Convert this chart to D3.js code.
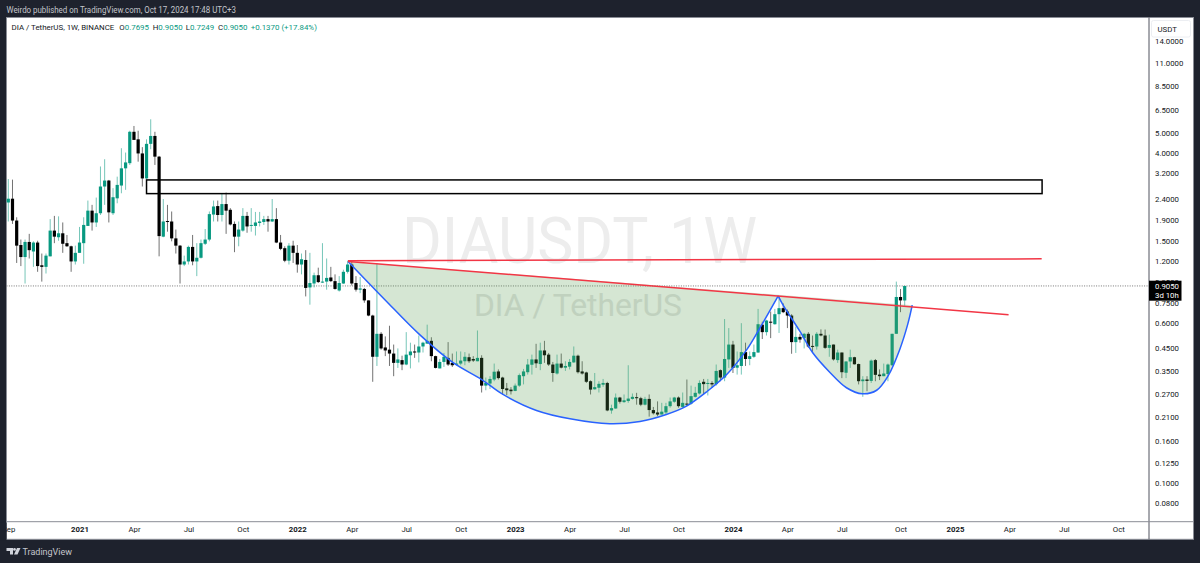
<!DOCTYPE html>
<html>
<head>
<meta charset="utf-8">
<style>
    html, body { margin: 0; padding: 0; background: #1e222d; overflow: hidden; }
    text { font-family: Roboto, sans-serif; }
</style>
</head>
<body>
<svg id="chart" width="1200" height="563"></svg>
<script src="https://cdn.jsdelivr.net/npm/d3@7"></script>
<script>
    // weekly DIA/USDT candles, first bar is the week of 7 Sep 2020
    let open = [
        2.30,2.40,1.88,1.43,1.25,1.48,1.33,1.47,1.14,1.12,
        1.26,1.68,1.56,1.63,1.46,1.41,1.19,1.31,1.46,1.77,
        2.10,1.84,2.04,2.75,2.94,2.04,2.41,2.78,3.37,3.57,
        5.07,4.66,3.98,3.01,4.43,4.84,3.84,1.57,1.87,1.86,
        1.54,1.42,1.15,1.19,1.40,1.19,1.24,1.45,1.52,2.01,
        2.21,2.00,2.26,2.12,1.81,1.57,1.68,1.98,1.77,1.77,
        1.83,1.85,1.91,1.86,1.91,1.47,1.38,1.20,1.42,1.31,
        1.15,1.21,.89,.93,1.02,.94,.95,.995,.955,.86,
        .93,1.06,1.15,.935,.868,.875,.77,.65,.41,.53,
        .455,.444,.425,.383,.395,.376,.417,.435,.43,.46,
        .475,.49,.413,.36,.387,.405,.383,.375,.38,.39,
        .408,.40,.39,.405,.297,.304,.318,.348,.325,.288,
        .284,.28,.297,.33,.345,.375,.398,.378,.44,.42,
        .376,.34,.38,.363,.367,.385,.415,.348,.344,.312,
        .285,.29,.30,.306,.225,.23,.26,.247,.25,.256,
        .261,.258,.24,.256,.226,.22,.215,.22,.236,.248,
        .26,.234,.243,.243,.262,.272,.31,.304,.306,.302,
        .353,.325,.398,.47,.363,.37,.432,.40,.41,.43,
        .587,.54,.607,.59,.66,.706,.68,.65,.483,.512,
        .505,.53,.463,.46,.53,.52,.453,.47,.395,.43,
        .343,.389,.408,.378,.312,.318,.313,.395,.336,.33,
        .338,.373,.53,.80,.7695
    ]
    let high = [
        2.99,2.97,1.95,1.52,1.52,1.62,1.49,1.50,1.30,1.30,
        1.91,1.98,1.97,1.84,1.60,1.42,1.42,1.75,1.95,2.35,
        2.24,2.43,3.44,3.73,2.96,2.70,3.07,4.22,4.02,5.13,
        5.41,5.13,4.27,4.66,5.83,5.07,3.87,2.39,2.24,2.08,
        1.70,1.43,1.27,1.42,1.60,1.46,1.52,1.71,2.08,2.35,
        2.35,2.55,2.57,2.16,1.86,1.86,2.16,2.07,2.16,2.07,
        2.07,1.98,1.98,2.39,2.16,1.60,1.41,1.46,1.50,1.43,
        1.30,1.35,1.31,1.05,1.11,1.46,1.23,1.12,1.03,1.01,
        1.085,1.20,1.20,1.01,1.00,.885,.77,.656,1.17,.54,
        .515,.58,.47,.45,.415,.54,.48,.47,.52,.485,
        .587,.51,.415,.40,.428,.483,.425,.435,.435,.432,
        .425,.413,.55,.417,.325,.33,.38,.356,.328,.306,
        .292,.304,.34,.358,.40,.42,.474,.48,.49,.428,
        .387,.42,.425,.39,.40,.46,.42,.39,.347,.315,
        .342,.312,.32,.31,.24,.272,.262,.269,.373,.272,
        .274,.262,.262,.269,.234,.249,.245,.245,.26,.262,
        .263,.275,.318,.297,.293,.315,.32,.32,.312,.376,
        .356,.625,.565,.49,.435,.597,.48,.435,.47,.70,
        .607,.62,.68,.70,.806,.745,.695,.66,.575,.53,
        .535,.54,.52,.54,.557,.556,.525,.47,.444,.43,
        .39,.444,.41,.38,.33,.33,.398,.40,.356,.38,
        .38,.53,.95,.875,.905
    ]
    let low = [
        1.86,1.81,1.17,1.13,.93,1.23,1.12,1.06,.95,1.04,
        1.26,1.46,1.50,1.31,1.40,1.06,1.15,1.31,1.16,1.77,
        1.68,1.75,2.00,2.24,1.84,2.00,2.28,2.55,2.65,3.50,
        4.63,3.63,2.75,2.98,4.17,3.50,1.26,1.56,1.66,1.49,
        1.30,.93,1.13,1.15,1.14,1.01,1.23,1.43,1.49,1.86,
        1.86,1.86,1.62,1.78,1.32,1.41,1.66,1.64,1.66,1.59,
        1.76,1.79,1.66,1.85,1.46,1.35,1.18,1.15,1.17,1.05,
        1.03,.805,.734,.89,.935,.935,.868,.945,.868,.85,
        .925,1.04,.91,.85,.835,.75,.645,.31,.37,.444,
        .413,.37,.33,.362,.353,.373,.36,.405,.385,.43,
        .473,.39,.36,.36,.366,.37,.366,.373,.373,.373,
        .383,.387,.39,.275,.282,.286,.312,.318,.269,.267,
        .269,.279,.293,.301,.336,.336,.362,.353,.383,.37,
        .31,.336,.36,.35,.356,.383,.34,.336,.306,.269,
        .284,.275,.293,.223,.217,.229,.243,.245,.245,.254,
        .24,.236,.238,.21,.215,.211,.215,.215,.232,.245,
        .232,.232,.236,.24,.26,.269,.269,.266,.29,.297,
        .312,.312,.362,.342,.336,.336,.37,.373,.405,.428,
        .50,.52,.505,.587,.535,.668,.565,.424,.428,.48,
        .45,.453,.428,.444,.515,.448,.41,.393,.383,.323,
        .323,.362,.376,.301,.262,.279,.306,.312,.316,.33,
        .312,.37,.53,.675,.7249
    ]
    let close = [
        2.40,1.88,1.42,1.25,1.48,1.35,1.47,1.13,1.12,1.27,
        1.68,1.57,1.63,1.45,1.41,1.19,1.31,1.47,1.79,2.10,
        1.84,2.04,2.75,2.94,2.06,2.44,2.80,3.37,3.60,5.07,
        4.63,3.98,3.01,4.43,4.84,3.84,1.58,1.86,1.86,1.54,
        1.42,1.15,1.19,1.40,1.19,1.24,1.46,1.52,2.02,2.20,
        2.00,2.26,2.10,1.80,1.57,1.70,1.98,1.76,1.79,1.84,
        1.86,1.91,1.86,1.91,1.47,1.37,1.20,1.42,1.31,1.15,
        1.22,.885,.935,1.02,.945,.95,.99,.955,.875,.935,
        1.06,1.15,.93,.868,.88,.77,.65,.41,.53,.45,
        .44,.425,.383,.398,.376,.42,.435,.43,.46,.48,
        .49,.413,.362,.387,.41,.376,.373,.38,.393,.41,
        .39,.393,.405,.297,.306,.32,.347,.323,.286,.282,
        .279,.297,.334,.348,.376,.398,.381,.44,.417,.376,
        .342,.38,.363,.37,.387,.415,.345,.34,.31,.284,
        .292,.303,.306,.225,.231,.26,.248,.252,.257,.262,
        .258,.24,.256,.226,.218,.215,.222,.236,.249,.26,
        .236,.245,.24,.264,.274,.306,.302,.306,.301,.35,
        .325,.40,.47,.362,.373,.432,.40,.413,.432,.59,
        .54,.615,.60,.66,.706,.675,.65,.483,.512,.497,
        .53,.46,.46,.53,.52,.453,.468,.398,.43,.345,
        .389,.408,.377,.312,.318,.313,.393,.335,.33,.34,
        .376,.53,.80,.77,.905
    ]

    // axis ticks, time ticks are given as week number counted from the first bar
    let priceTicks = [14,11,8.5,6.5,5,4,3.2,2.4,1.9,1.5,1.2,.95,.75,.6,.45,.35,.27,.21,.16,.125,.1,.08]
    let timeLabels = ["Sep","2021","Apr","Jul","Oct","2022","Apr","Jul","Oct","2023","Apr","Jul","Oct","2024","Apr","Jul","Oct","2025","Apr","Jul","Oct"]
    let timeWeeks = [0,17,30,43,56,69,82,95,108,121,134,147,160,173,186,199,213,226,239,252,265]

    // drawings on the chart, as [week, price]
    let cupPoints = [[81.1,1.19],[89.9,.776],[98.2,.525],[106.1,.385],[113,.318],[118.1,.269],[126.1,.225],[134.1,.205],[143.6,.194],
        [150.8,.199],[157.1,.215],[161.9,.236],[166.7,.277],[171.5,.336],[176.3,.444],[179.4,.564],[183.8,.81]]
    let handlePoints = [[183.8,.81],[184.9,.734],[189,.544],[192,.43],[196.1,.345],[200.1,.29],[203.9,.271],[207.3,.282],[210,.33],[212.8,.444],[214.7,.587],[215.8,.73]]
    let trendLine = [[81.1,1.19],[238.8,.656]]
    let flatLine = [[81.1,1.20],[246.7,1.225]]
    let zoneWeeks = [33,246.8]
    let zonePrices = [2.96,2.54]
    let lastPrice = 0.905

    let svg = d3.select("#chart")

    // plot area of the panel
    let left = 6.5, right = 1149, top_ = 17.5, timeTop = 521.7, bottom = 539.3, edge = 1193.5

    let x = d3.scaleLinear().domain([0, open.length - 1]).range([8.3, 904.7])
    // 11 sits at y=62.5 and 0.1 at y=483
    let y = d3.scaleLog().domain([11, 0.1]).range([62.5, 483])

    let green = "#089981"
    let color = i => close[i] >= open[i] ? green : "#000000"

    // white panel
    svg.append("rect").attr("x", left).attr("y", top_).attr("width", edge - left).attr("height", bottom - top_)
        .attr("fill", "#fff").attr("stroke", "#8a8d96").attr("stroke-width", 1)

    // header
    svg.append("text").attr("x", 6.5).attr("y", 13).attr("font-size", 8.6).attr("fill", "#c4c6cc")
        .attr("textLength", 229.5).attr("lengthAdjust", "spacingAndGlyphs")
        .text("Weirdo published on TradingView.com, Oct 17, 2024 17:48 UTC+3")

    // watermark goes under everything
    svg.append("text").attr("x", 402).attr("y", 263).attr("font-size", 64).attr("fill", "#ededed")
        .attr("textLength", 355).attr("lengthAdjust", "spacingAndGlyphs").text("DIAUSDT, 1W")
    svg.append("text").attr("x", 474).attr("y", 316).attr("font-size", 31).attr("fill", "#e3e3e3")
        .attr("textLength", 208).attr("lengthAdjust", "spacingAndGlyphs").text("DIA / TetherUS")

    // last price dotted line
    svg.append("line").attr("x1", left).attr("x2", right).attr("y1", y(lastPrice)).attr("y2", y(lastPrice))
        .attr("stroke", "#777").attr("stroke-width", 1).attr("stroke-dasharray", "1 1.4")

    // candles
    let bars = svg.append("g").selectAll("g").data(d3.range(open.length)).enter().append("g")
    bars.append("line")
        .attr("x1", i => x(i)).attr("x2", i => x(i))
        .attr("y1", i => y(high[i])).attr("y2", i => y(low[i]))
        .attr("stroke", color).attr("stroke-width", 1).attr("opacity", 0.55)
    bars.append("rect")
        .attr("x", i => x(i) - 1.6).attr("width", 3.2)
        .attr("y", i => y(Math.max(open[i], close[i])))
        .attr("height", i => Math.max(1, Math.abs(y(open[i]) - y(close[i]))))
        .attr("fill", color)

    // cup and handle
    let line = d3.line().x(d => x(d[0])).y(d => y(d[1])).curve(d3.curveCatmullRom)
    let cupPath = line(cupPoints), handlePath = line(handlePoints)
    svg.append("path").attr("d", cupPath + handlePath.replace("M", "L") + "Z")
        .attr("fill", "rgba(87,155,79,0.25)").attr("stroke", "none")
    svg.append("path").attr("d", cupPath).attr("fill", "none").attr("stroke", "#2962ff").attr("stroke-width", 1.5)
    svg.append("path").attr("d", handlePath).attr("fill", "none").attr("stroke", "#2962ff").attr("stroke-width", 1.5)

    // red lines
    let straight = d3.line().x(d => x(d[0])).y(d => y(d[1]))
    svg.append("path").attr("d", straight(trendLine)).attr("fill", "none").attr("stroke", "#f23645").attr("stroke-width", 1.5)
    svg.append("path").attr("d", straight(flatLine)).attr("fill", "none").attr("stroke", "#f23645").attr("stroke-width", 1.5)

    // black box
    svg.append("rect")
        .attr("x", x(zoneWeeks[0])).attr("width", x(zoneWeeks[1]) - x(zoneWeeks[0]))
        .attr("y", y(zonePrices[0])).attr("height", y(zonePrices[1]) - y(zonePrices[0]))
        .attr("fill", "none").attr("stroke", "#000").attr("stroke-width", 1.5)

    // legend line
    let legend = svg.append("text").attr("y", 30).attr("font-size", 7.9).attr("fill", "#131722")
    legend.append("tspan").attr("x", 11.5).text("DIA / TetherUS, 1W, BINANCE")
    let ohlcLabels = ["O","H","L","C"]
    let ohlcValues = ["0.7695","0.9050","0.7249","0.9050"]
    let ohlcX = [119.3,152.7,185.7,218]
    ohlcLabels.forEach((l, i) => {
        legend.append("tspan").attr("x", ohlcX[i]).text(l)
        legend.append("tspan").attr("fill", green).text(ohlcValues[i])
    })
    legend.append("tspan").attr("x", 250.7).attr("fill", green).text("+0.1370 (+17.84%)")

    // axes
    let yAxis = d3.axisRight(y).tickValues(priceTicks).tickFormat(d3.format(".4f")).tickSize(0).tickPadding(6)
    let yG = svg.append("g").attr("transform", "translate(" + right + ",0)").call(yAxis)
    yG.select(".domain").remove()
    yG.selectAll("text").attr("font-size", 7.8).attr("font-family", "Roboto").attr("fill", "#131722")

    let xAxis = d3.axisBottom(x).tickValues(timeWeeks).tickFormat((d, i) => timeLabels[i]).tickSize(0).tickPadding(5)
    let xG = svg.append("g").attr("transform", "translate(0," + timeTop + ")").call(xAxis)
    xG.select(".domain").remove()
    xG.selectAll("text").attr("font-size", 7.8).attr("font-family", "Roboto").attr("fill", "#131722")
        .attr("font-weight", (d, i) => /^20/.test(timeLabels[i]) ? 700 : 400)

    // cover what hangs over the left border, then the axis rules
    svg.append("rect").attr("x", 0).attr("y", timeTop + 1).attr("width", left).attr("height", bottom - timeTop).attr("fill", "#1e222d")
    svg.append("line").attr("x1", right).attr("x2", right).attr("y1", top_).attr("y2", bottom).attr("stroke", "#50535e").attr("stroke-width", 1)
    svg.append("line").attr("x1", left).attr("x2", edge).attr("y1", timeTop).attr("y2", timeTop).attr("stroke", "#8a8d96").attr("stroke-width", 1)

    // currency box over the top tick
    svg.append("rect").attr("x", 1151.5).attr("y", 20.5).attr("width", 39).attr("height", 16.5).attr("rx", 2)
        .attr("fill", "#fff").attr("stroke", "#eceef2")
    svg.append("text").attr("x", 1157.5).attr("y", 32).attr("font-size", 7.8).attr("fill", "#131722").text("USDT")

    // last price tag
    svg.append("rect").attr("x", right).attr("y", 280.7).attr("width", 32.5).attr("height", 20).attr("fill", "#000")
    svg.append("text").attr("x", 1155).attr("y", 289).attr("font-size", 7.8).attr("fill", "#fff").text(d3.format(".4f")(lastPrice))
    svg.append("text").attr("x", 1155).attr("y", 298.3).attr("font-size", 7.8).attr("fill", "#fff").text("3d 10h")

    // footer logo and name
    let logo = svg.append("g").attr("transform", "translate(6.5,548)").attr("fill", "#d1d4dc")
    logo.append("path").attr("d", "M0 0H6.5V6.5H3.5V3H0Z")
    logo.append("circle").attr("cx", 8).attr("cy", 1.4).attr("r", 1.4)
    logo.append("path").attr("d", "M10.5 0H14L11 6.5H7.5Z")
    svg.append("text").attr("x", 22.5).attr("y", 554.7).attr("font-size", 9).attr("fill", "#c4c6cc").text("TradingView")
</script>
</body>
</html>
